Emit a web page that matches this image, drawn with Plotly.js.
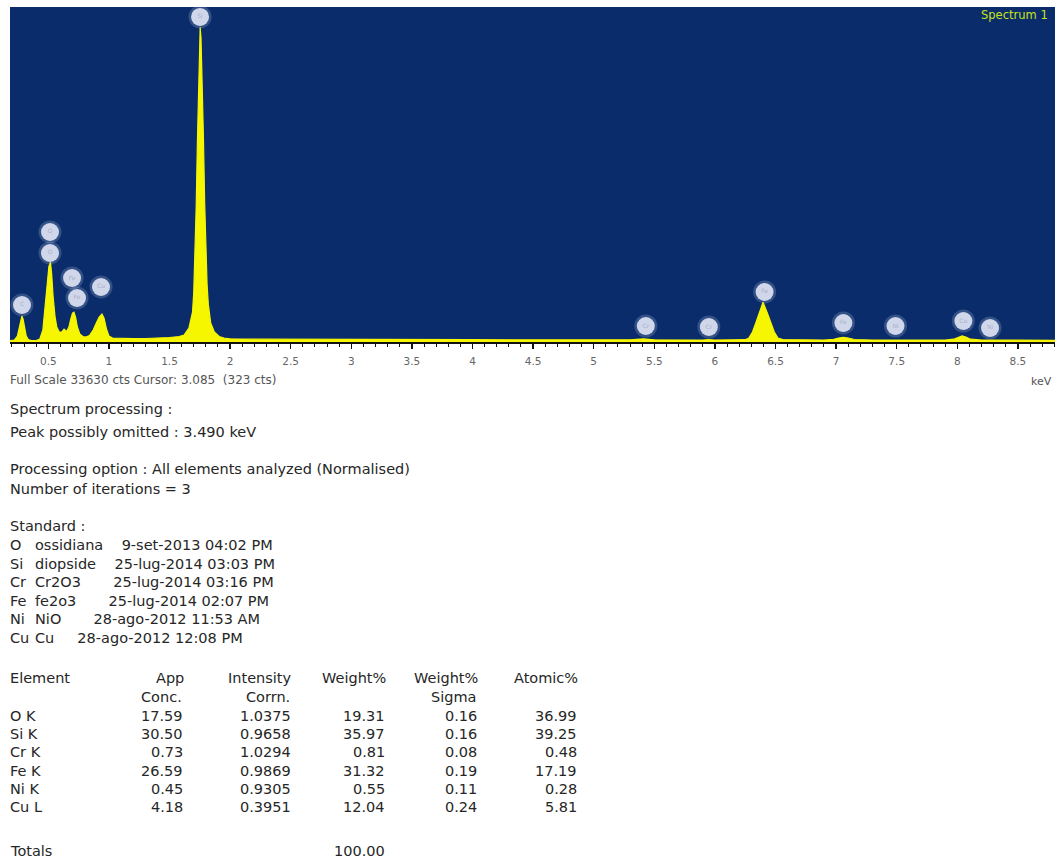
<!DOCTYPE html>
<html>
<head>
<meta charset="utf-8">
<script src="https://cdn.plot.ly/plotly-3.0.1.min.js"></script>
<style>
html,body{margin:0;padding:0;background:#ffffff;}
#chart{width:1056px;height:861px;}
</style>
</head>
<body>
<div id="chart"></div>
<script>
// ---- Spectrum data (energy in keV, counts) ----
const energyKeV = [0.184,0.22,0.245,0.26,0.272,0.282,0.292,0.305,0.318,0.335,0.36,0.40,0.43,0.455,0.475,0.49,0.505,0.518,0.528,0.54,0.555,0.57,0.59,0.61,0.63,0.65,0.67,0.685,0.70,0.712,0.725,0.74,0.76,0.785,0.81,0.84,0.87,0.90,0.92,0.943,0.96,0.98,1.00,1.03,1.10,1.20,1.30,1.40,1.50,1.58,1.62,1.66,1.69,1.70,1.71,1.72,1.73,1.74,1.748,1.753,1.76,1.77,1.78,1.79,1.80,1.81,1.82,1.84,1.87,1.91,1.95,2.00,2.20,2.50,3.00,3.50,4.00,4.50,5.00,5.30,5.41,5.50,5.90,5.95,6.00,6.25,6.28,6.31,6.34,6.37,6.397,6.43,6.46,6.49,6.52,6.56,6.90,6.98,7.02,7.06,7.10,7.15,7.30,7.47,7.60,7.90,7.97,8.01,8.04,8.07,8.11,8.20,8.26,8.50,8.806];
const counts    = [150,200,600,1400,2200,2600,2300,1300,600,250,150,150,300,1200,3500,5500,7600,8000,6800,4500,2600,1500,1000,1000,1300,1050,1500,2300,2900,3000,2500,1500,800,550,500,650,1200,2000,2500,2800,2400,1300,600,400,350,330,350,380,450,550,700,1400,3000,5000,8500,13500,20000,26500,30500,31600,30500,26500,20500,14000,9000,5800,3800,1900,1000,550,400,320,280,260,250,240,230,220,220,220,320,220,200,240,200,230,400,1000,2000,3100,4000,3000,1900,1000,400,240,200,260,400,470,400,250,200,210,200,200,280,500,620,500,280,200,210,180,170];

// ---- Element line markers ----
const markerLabels = ["C","O","O","Fe","Fe","Cu","Si","Cr","Cr","Fe","Fe","Ni","Cu","Ni"];
const markerKeV    = [0.283,0.514,0.514,0.696,0.737,0.935,1.752,5.43,5.95,6.41,7.06,7.49,8.05,8.27];
const markerCounts = [3715,11044,8936,6425,4418,5522,32630,1606,1506,5020,1908,1606,2108,1406];

// ---- Axis tick labels ----
const tickValues = [0.5,1,1.5,2,2.5,3,3.5,4,4.5,5,5.5,6,6.5,7,7.5,8,8.5];
const tickLabels = ["0.5","1","1.5","2","2.5","3","3.5","4","4.5","5","5.5","6","6.5","7","7.5","8","8.5"];

// ---- Texts ----
const spectrumName = "Spectrum 1";
const footerLine = "Full Scale 33630 cts Cursor: 3.085  (323 cts)";
const unitLabel = "keV";
const processingLines = ["Spectrum processing :","Peak possibly omitted : 3.490 keV"];
const optionLines = ["Processing option : All elements analyzed (Normalised)","Number of iterations = 3"];
const standardTitle = "Standard :";
const stdElements = ["O","Si","Cr","Fe","Ni","Cu"];
const stdNames    = ["ossidiana","diopside","Cr2O3","fe2o3","NiO","Cu"];
const stdDates    = ["9-set-2013 04:02 PM","25-lug-2014 03:03 PM","25-lug-2014 03:16 PM","25-lug-2014 02:07 PM","28-ago-2012 11:53 AM","28-ago-2012 12:08 PM"];
const stdGaps     = [4, 4, 7, 7, 7, 5];   // spaces between name and date as in the report

// ---- Quantification table ----
const tableHeader1 = ["Element","App","Intensity","Weight%","Weight%","Atomic%"];
const tableHeader2 = ["","Conc.","Corrn.","","Sigma",""];
const tblElements  = ["O K","Si K","Cr K","Fe K","Ni K","Cu L"];
const appConc      = ["17.59","30.50","0.73","26.59","0.45","4.18"];
const intensityCorrn = ["1.0375","0.9658","1.0294","0.9869","0.9305","0.3951"];
const weightPct    = ["19.31","35.97","0.81","31.32","0.55","12.04"];
const weightSigma  = ["0.16","0.16","0.08","0.19","0.11","0.24"];
const atomicPct    = ["36.99","39.25","0.48","17.19","0.28","5.81"];
const totalsLabel  = "Totals";
const totalWeight  = "100.00";

// ---- Layout geometry (pixels) ----
const W = 1056, H = 861;
const plotL = 10, plotR = 1055, plotT = 7, plotB = 342;
const px = x => (x - plotL) / (plotR - plotL);
const py = y => (plotB - y) / (plotB - plotT);

const FONT = '"DejaVu Sans", "Liberation Sans", Arial, sans-serif';
const TXT = '#262626';
const NB = '\u00a0';
const annotations = [];
function addText(text, x, y, opts) {
  opts = opts || {};
  annotations.push({
    text: text, xref: 'paper', yref: 'paper', x: px(x), y: py(y),
    xanchor: opts.anchor || 'left', yanchor: 'middle', showarrow: false,
    font: {family: opts.family || FONT, size: opts.size || 14.5, color: opts.color || TXT}
  });
}

addText(spectrumName, 1050, 15, {anchor: 'right', size: 11.5, color: '#c6e21a'});
addText(footerLine, 8, 380, {size: 12, color: '#555'});
addText(unitLabel, 1054, 382, {anchor: 'right', size: 11, color: '#555'});

processingLines.forEach((t, i) => addText(t, 8, 409 + i * 23));
optionLines.forEach((t, i) => addText(t, 8, 469 + i * 20));
addText(standardTitle, 8, 526);
stdElements.forEach((el, i) => {
  const y = 545 + i * 18.6;
  addText(el, 8, y);
  addText(stdNames[i] + NB.repeat(stdGaps[i]) + stdDates[i], 33, y);
});

const colRight = [null, 186, 294, 388, 480, 580];
tableHeader1.forEach((h, i) => {
  if (i === 0) addText(h, 8, 678); else addText(h, colRight[i], 678, {anchor: 'right'});
});
tableHeader2.forEach((h, i) => {
  if (h) addText(h, colRight[i] - 2, 697, {anchor: 'right'});
});
const cols = [appConc, intensityCorrn, weightPct, weightSigma, atomicPct];
tblElements.forEach((el, r) => {
  const y = 716 + r * 18.2;
  addText(el, 8, y);
  cols.forEach((c, k) => addText(c[r], colRight[k + 1] - 1, y, {anchor: 'right'}));
});
addText(totalsLabel, 8, 851);
addText(totalWeight, colRight[3] - 1, 851, {anchor: 'right'});

const traces = [
  {
    x: energyKeV, y: counts, type: 'scatter', mode: 'lines',
    fill: 'tozeroy', fillcolor: '#f6f600',
    line: {color: '#f6f600', width: 1.2}, hoverinfo: 'x+y'
  },
  {
    x: markerKeV, y: markerCounts, type: 'scatter', mode: 'markers',
    marker: {size: 23, color: 'rgba(200,212,238,0.22)', line: {width: 0}}, hoverinfo: 'skip'
  },
  {
    x: markerKeV, y: markerCounts, type: 'scatter', mode: 'markers+text',
    text: markerLabels, textposition: 'middle center',
    textfont: {size: 6, color: '#a8b0c8', family: FONT},
    marker: {size: 18, color: 'rgba(225,230,245,0.9)', line: {width: 0}}, hoverinfo: 'text'
  }
];

const layout = {
  width: W, height: H,
  margin: {l: plotL, r: W - plotR, t: plotT, b: H - plotB, pad: 0},
  paper_bgcolor: '#ffffff', plot_bgcolor: '#0a2c6b',
  showlegend: false,
  xaxis: {
    range: [0.184, 8.806], showgrid: false, zeroline: false,
    showline: true, linecolor: '#111', linewidth: 1.5,
    ticks: 'outside', ticklen: 5, tickwidth: 1.3, tickcolor: '#111',
    tickvals: tickValues, ticktext: tickLabels,
    tickfont: {family: FONT, size: 10.5, color: '#666'},
    ticklabelstandoff: 4,
    minor: {dtick: 0.1, tick0: 0, ticks: 'outside', ticklen: 3, tickwidth: 1, tickcolor: '#111', showgrid: false},
    fixedrange: true
  },
  yaxis: {
    range: [0, 33630], showgrid: false, zeroline: false, showline: false,
    showticklabels: false, ticks: '', fixedrange: true
  },
  annotations: annotations
};

Plotly.newPlot('chart', traces, layout, {displayModeBar: false, staticPlot: true});
</script>
</body>
</html>
